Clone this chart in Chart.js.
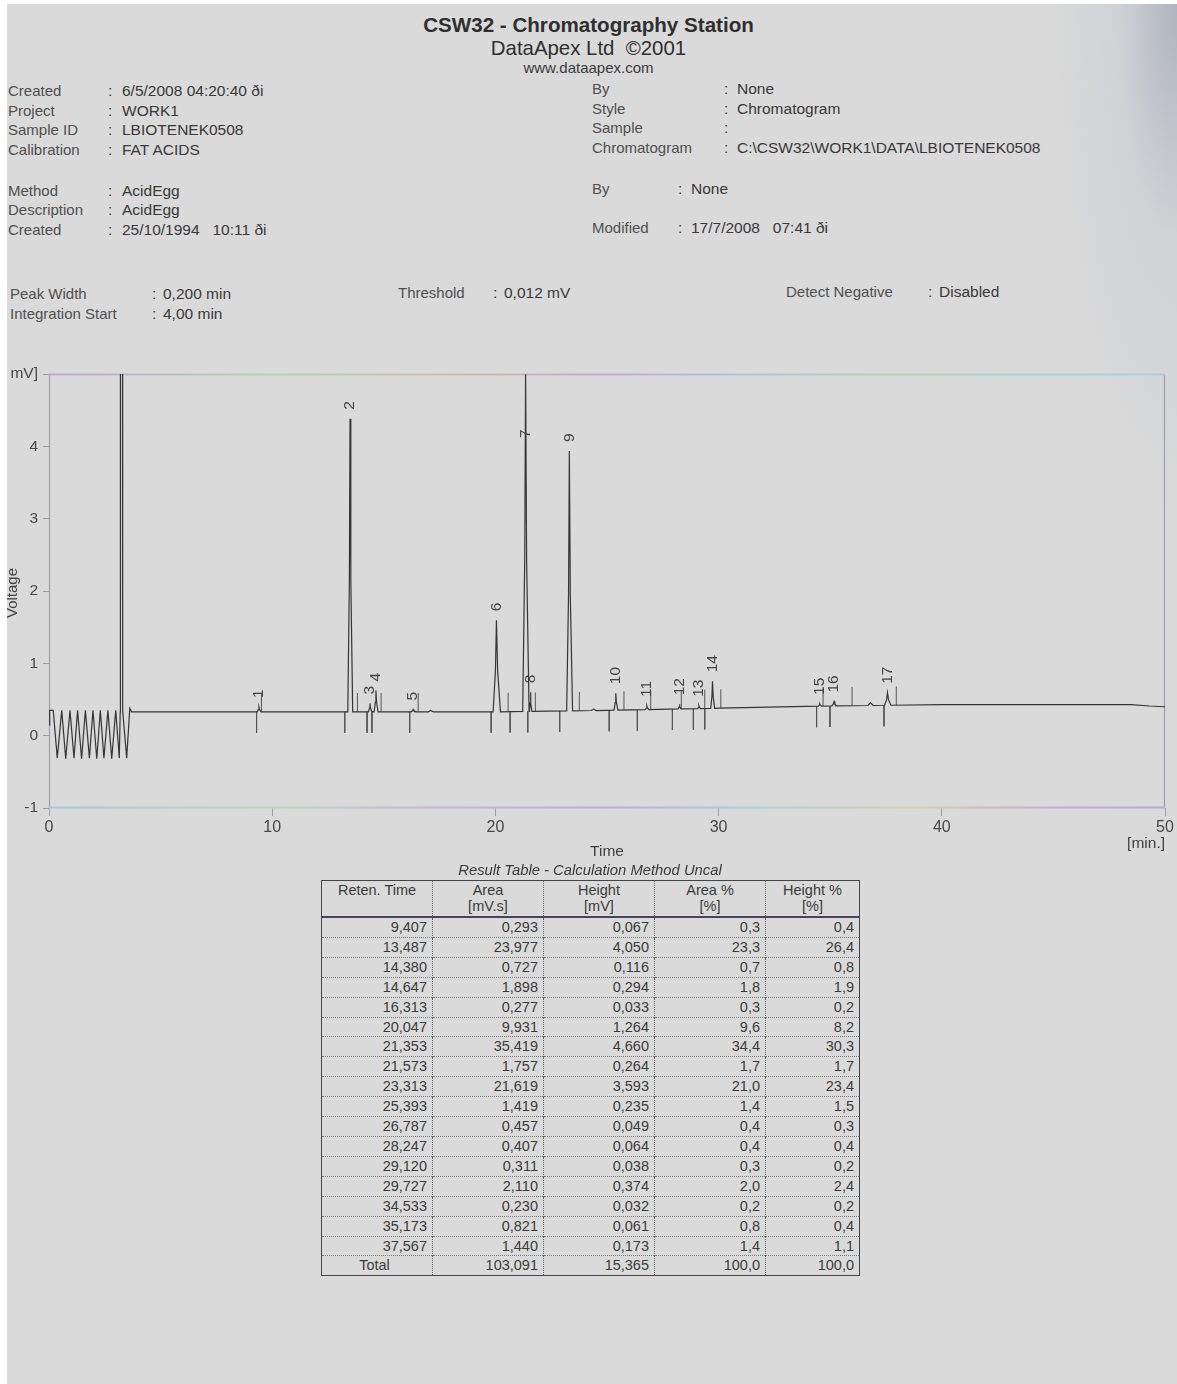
<!DOCTYPE html>
<html>
<head>
<meta charset="utf-8">
<title>CSW32 - Chromatography Station</title>
<script src="https://cdn.jsdelivr.net/npm/chart.js@4/dist/chart.umd.min.js"></script>
<style>
  html, body { margin: 0; padding: 0; background: #ffffff; }
  body { width: 1177px; height: 1384px; position: relative; overflow: hidden;
         font-family: "Liberation Sans", Arial, sans-serif; color: #3f3f3f; }
  #page { position: absolute; left: 7px; top: 4px; width: 1170px; height: 1380px; background: #dadada; }
  #curl { position: absolute; right: 0; top: 0; width: 220px; height: 560px;
          background: radial-gradient(ellipse 130px 520px at 100% 0%, rgba(164,170,184,0.8) 0%, rgba(200,203,210,0.55) 45%, rgba(218,218,218,0) 100%); }
  .t { position: absolute; white-space: nowrap; font-size: 15px; line-height: 16px; }
  .h1 { font-size: 20.6px; font-weight: bold; line-height: 22px; color: #2f2f2f; }
  .h2 { font-size: 20.4px; line-height: 22px; color: #2f2f2f; }
  .h3 { font-size: 15px; line-height: 16px; color: #3a3a3a; }
  .lab { color: #4f4f4f; }
  .val { color: #383838; font-size: 15.5px; }
  #chartBox { position: absolute; left: 0; top: 355px; width: 1177px; height: 515px; }
  #vclip { position: absolute; left: 7px; top: 540px; width: 24px; height: 110px; overflow: hidden; }
  #vtitle { position: absolute; left: -3px; top: 78px; transform-origin: 0 0; transform: rotate(-90deg);
            font-size: 15px; line-height: 15px; color: #3f3f3f; white-space: nowrap; }
  #results { position: absolute; left: 321px; top: 880px; width: 538px; border-collapse: collapse;
             table-layout: fixed; font-size: 14.5px; color: #3a3a3a; border: 1.5px solid #444; }
  #results th { font-weight: normal; vertical-align: top; text-align: center; height: 34px;
                line-height: 16px; padding: 1px 0 0 0; border-right: 1px dotted #666;
                border-bottom: 2.5px solid #4b4060; }
  #results td { text-align: right; padding: 0 5px 0 0; height: 18.9px; line-height: 18.9px;
                border-top: 1px dotted #777; border-right: 1px dotted #666; }
  #results tr.total td:first-child { text-align: center; }
</style>
</head>
<body>
<div id="page"><div id="curl"></div></div>

<!-- report heading -->
<div class="t h1" style="left:0;width:1177px;text-align:center;top:14px;">CSW32 - Chromatography Station</div>
<div class="t h2" style="left:0;width:1177px;text-align:center;top:37px;">DataApex Ltd &nbsp;©2001</div>
<div class="t h3" style="left:0;width:1177px;text-align:center;top:60px;">www.dataapex.com</div>

<div id="info"></div>

<div id="chartBox"><canvas id="chart" width="1177" height="515"></canvas></div>
<div id="vclip"><div id="vtitle">Voltage</div></div>
<div class="t" style="left:560px;width:94px;text-align:center;top:843px;color:#3f3f3f;font-size:15.5px;">Time</div>
<div class="t" style="left:1100px;width:65px;text-align:right;top:835px;color:#3f3f3f;font-size:15.5px;">[min.]</div>

<div class="t" style="left:0;width:1180px;text-align:center;top:862px;font-style:italic;font-size:14.8px;color:#3a3a3a;">Result Table - Calculation Method Uncal</div>
<table id="results"></table>

<script>
// ---- peak table (CSW32 result table) ----
const peakNumbers    = ['1','2','3','4','5','6','7','8','9','10','11','12','13','14','15','16','17'];
const retentionTimes = [9.407, 13.487, 14.380, 14.647, 16.313, 20.047, 21.353, 21.573, 23.313,
                        25.393, 26.787, 28.247, 29.120, 29.727, 34.533, 35.173, 37.567];
const peakAreas      = [0.293, 23.977, 0.727, 1.898, 0.277, 9.931, 35.419, 1.757, 21.619,
                        1.419, 0.457, 0.407, 0.311, 2.110, 0.230, 0.821, 1.440];
const peakHeights    = [0.067, 4.050, 0.116, 0.294, 0.033, 1.264, 4.660, 0.264, 3.593,
                        0.235, 0.049, 0.064, 0.038, 0.374, 0.032, 0.061, 0.173];
const areaPercent    = [0.3, 23.3, 0.7, 1.8, 0.3, 9.6, 34.4, 1.7, 21.0, 1.4, 0.4, 0.4, 0.3, 2.0, 0.2, 0.8, 1.4];
const heightPercent  = [0.4, 26.4, 0.8, 1.9, 0.2, 8.2, 30.3, 1.7, 23.4, 1.5, 0.3, 0.4, 0.2, 2.4, 0.2, 0.4, 1.1];
const totalRow       = ['Total', '103,091', '15,365', '100,0', '100,0'];
const tableHeaders   = [['Reten. Time',''], ['Area','[mV.s]'], ['Height','[mV]'], ['Area %','[%]'], ['Height %','[%]']];

// half base width of each peak, minutes
const peakHalfWidths = [0.08, 0.10, 0.07, 0.08, 0.10, 0.15, 0.13, 0.05, 0.12,
                        0.08, 0.07, 0.06, 0.06, 0.08, 0.07, 0.10, 0.13];

// small unnamed bumps on the baseline
const minorTimes   = [17.1, 24.4, 36.8];
const minorHeights = [0.02, 0.02, 0.04];

// detector baseline (mV) after the injection disturbance
const baselineTimes  = [3.7, 10, 16, 20, 25, 30, 35, 40, 45, 48.5, 49.3, 50];
const baselineLevels = [0.33, 0.33, 0.33, 0.33, 0.35, 0.38, 0.41, 0.43, 0.43, 0.43, 0.41, 0.40];

// injection disturbance and solvent front, 0 - 3.7 min
const injectionTimes  = [0, 0.03, 0.19, 0.37, 0.57, 0.75, 0.94, 1.12, 1.28, 1.46, 1.63, 1.81, 1.97,
                         2.14, 2.30, 2.46, 2.64, 2.81, 2.99, 3.15, 3.19, 3.20, 3.29, 3.30, 3.48, 3.62];
const injectionLevels = [0.15, 0.35, 0.35, -0.31, 0.35, -0.32, 0.35, -0.31, 0.35, -0.32, 0.35, -0.31, 0.35,
                         -0.32, 0.35, -0.31, 0.35, -0.32, 0.35, -0.31, 0.33, 6.0, 6.0, 0.35, -0.31, 0.38];

// integration events: peak starts (drawn downward) and peak ends (drawn upward)
const peakStartTimes = [9.30, 13.25, 14.25, 14.47, 16.16, 19.81, 20.66, 21.45, 22.88, 25.10,
                        26.36, 27.93, 28.87, 29.38, 34.39, 34.99, 37.41];
const peakEndTimes   = [9.52, 13.82, 14.88, 16.54, 20.57, 21.79, 23.76, 25.76, 26.96, 28.33,
                        29.38, 30.10, 34.68, 35.98, 37.96];

const xTicks = [0, 10, 20, 30, 40, 50];
const yTicks = [-1, 0, 1, 2, 3, 4, 5];

// ---------- helpers ----------
function levelAt(t) {
  if (t <= baselineTimes[0]) return baselineLevels[0];
  for (let i = 1; i < baselineTimes.length; i++) {
    if (t <= baselineTimes[i]) {
      const f = (t - baselineTimes[i-1]) / (baselineTimes[i] - baselineTimes[i-1]);
      return baselineLevels[i-1] + f * (baselineLevels[i] - baselineLevels[i-1]);
    }
  }
  return baselineLevels[baselineLevels.length - 1];
}
const comma = (v, d) => v.toFixed(d).replace('.', ',');

// ---------- header fields ----------
const leftFields = [
  ['Created', '6/5/2008 04:20:40 ði', 91], ['Project', 'WORK1', 111], ['Sample ID', 'LBIOTENEK0508', 130],
  ['Calibration', 'FAT ACIDS', 150], ['Method', 'AcidEgg', 191], ['Description', 'AcidEgg', 210],
  ['Created', '25/10/1994\u00a0\u00a0 10:11 ði', 230]
];
const rightFields = [
  ['By', 'None', 89, 724], ['Style', 'Chromatogram', 109, 724], ['Sample', '', 128, 724],
  ['Chromatogram', 'C:\\CSW32\\WORK1\\DATA\\LBIOTENEK0508', 148, 724],
  ['By', 'None', 189, 678], ['Modified', '17/7/2008\u00a0\u00a0 07:41 ði', 228, 678]
];
const paramFields = [
  ['Peak Width', '0,200 min', 10, 152, 294], ['Integration Start', '4,00 min', 10, 152, 314],
  ['Threshold', '0,012 mV', 398, 493, 293], ['Detect Negative', 'Disabled', 786, 928, 292]
];
const info = document.getElementById('info');
function addText(cls, x, yc, txt) {
  const d = document.createElement('div');
  d.className = 't ' + cls;
  d.style.left = x + 'px';
  d.style.top = (yc - 8) + 'px';
  d.textContent = txt;
  info.appendChild(d);
}
leftFields.forEach(([l, v, y]) => { addText('lab', 8, y, l); addText('val', 108, y, ':'); addText('val', 122, y, v); });
rightFields.forEach(([l, v, y, cx]) => { addText('lab', 592, y, l); addText('val', cx, y, ':'); addText('val', cx + 13, y, v); });
paramFields.forEach(([l, v, lx, cx, y]) => { addText('lab', lx, y, l); addText('val', cx, y, ':'); addText('val', cx + 11, y, v); });

// ---------- result table ----------
const tbl = document.getElementById('results');
const colW = [111, 111, 111, 111, 94];
let html = '<colgroup>' + colW.map(w => `<col style="width:${w}px">`).join('') + '</colgroup>';
html += '<tr>' + tableHeaders.map(h => `<th>${h[0]}<br>${h[1]}</th>`).join('') + '</tr>';
retentionTimes.forEach((rt, i) => {
  html += '<tr>' + [comma(rt, 3), comma(peakAreas[i], 3), comma(peakHeights[i], 3),
                    comma(areaPercent[i], 1), comma(heightPercent[i], 1)].map(v => `<td>${v}</td>`).join('') + '</tr>';
});
html += '<tr class="total">' + totalRow.map(v => `<td>${v}</td>`).join('') + '</tr>';
tbl.innerHTML = html;

// ---------- chromatogram trace ----------
const peakSpans = retentionTimes.map((rt, i) => [rt - peakHalfWidths[i], rt + 1.2 * peakHalfWidths[i]]);
const trace = [];
injectionTimes.forEach((t, i) => trace.push({ x: t, y: injectionLevels[i] }));
baselineTimes.forEach((t, i) => {
  if (!peakSpans.some(([a, b]) => t >= a && t <= b)) trace.push({ x: t, y: baselineLevels[i] });
});
retentionTimes.forEach((rt, i) => {
  const w = peakHalfWidths[i], b = levelAt(rt), h = peakHeights[i];
  trace.push({ x: rt - w, y: b }, { x: rt - 0.3 * w, y: b + 0.45 * h }, { x: rt, y: b + h },
             { x: rt + 0.35 * w, y: b + 0.45 * h }, { x: rt + 1.2 * w, y: b });
});
minorTimes.forEach((t, i) => {
  const b = levelAt(t);
  trace.push({ x: t - 0.1, y: b }, { x: t, y: b + minorHeights[i] }, { x: t + 0.12, y: b });
});
trace.sort((a, b) => a.x - b.x);

// integration event ticks
const events = [];
peakStartTimes.forEach(t => { const b = levelAt(t); events.push({ x: t, y: b }, { x: t, y: b - 0.29 }, { x: t, y: null }); });
peakEndTimes.forEach(t => { const b = levelAt(t); events.push({ x: t, y: b }, { x: t, y: b + 0.26 }, { x: t, y: null }); });

// ---------- plugins ----------
const framePlugin = {
  id: 'frame',
  beforeDatasetsDraw(chart) {
    const { ctx, chartArea: a } = chart;
    ctx.save();
    ctx.lineWidth = 1.2;
    ctx.strokeStyle = '#9c9eaa';
    ctx.beginPath();
    ctx.moveTo(a.left + 0.5, a.top); ctx.lineTo(a.left + 0.5, a.bottom);
    ctx.moveTo(a.right - 0.5, a.top); ctx.lineTo(a.right - 0.5, a.bottom);
    ctx.stroke();
    const gTop = ctx.createLinearGradient(a.left, 0, a.right, 0);
    [['#c0a8d8', 0], ['#b6d4b0', 0.2], ['#cdbfa4', 0.35], ['#c8a8d6', 0.5], ['#a8c8dc', 0.62],
     ['#b0d8b4', 0.75], ['#a8d4e0', 0.9], ['#a8d0dc', 1]].forEach(([c, s]) => gTop.addColorStop(s, c));
    ctx.strokeStyle = gTop; ctx.lineWidth = 1.8;
    ctx.beginPath(); ctx.moveTo(a.left, a.top + 0.5); ctx.lineTo(a.right, a.top + 0.5); ctx.stroke();
    const gBot = ctx.createLinearGradient(a.left, 0, a.right, 0);
    [['#a8c8dc', 0], ['#b8d8c0', 0.2], ['#c8b4dc', 0.35], ['#c0a8d8', 0.5], ['#a8d0e0', 0.62],
     ['#d8cfa8', 0.78], ['#c8a8d8', 0.9], ['#b8a8d8', 1]].forEach(([c, s]) => gBot.addColorStop(s, c));
    ctx.strokeStyle = gBot;
    ctx.beginPath(); ctx.moveTo(a.left, a.bottom - 0.5); ctx.lineTo(a.right, a.bottom - 0.5); ctx.stroke();
    ctx.restore();
  }
};

const peakLabelPlugin = {
  id: 'peakLabels',
  afterDatasetsDraw(chart) {
    const { ctx, chartArea: a, scales: { x, y } } = chart;
    ctx.save();
    ctx.font = '15.5px "Liberation Sans", Arial, sans-serif';
    ctx.fillStyle = '#444444';
    ctx.textAlign = 'left';
    ctx.textBaseline = 'middle';
    retentionTimes.forEach((rt, i) => {
      const apex = levelAt(rt) + peakHeights[i];
      const px = x.getPixelForValue(rt);
      const len = ctx.measureText(peakNumbers[i]).width;
      let bottom = y.getPixelForValue(apex) - 9;
      if (bottom - len < a.top + 20) bottom = y.getPixelForValue(apex - 0.88);
      ctx.save();
      ctx.translate(px, bottom);
      ctx.rotate(-Math.PI / 2);
      ctx.fillText(peakNumbers[i], 0, 0);
      ctx.restore();
    });
    ctx.restore();
  }
};

Chart.defaults.font.family = '"Liberation Sans", Arial, sans-serif';
new Chart(document.getElementById('chart'), {
  type: 'scatter',
  data: {
    datasets: [
      { data: trace, showLine: true, borderColor: '#353535', borderWidth: 1.2, pointRadius: 0, tension: 0 },
      { data: events, showLine: true, spanGaps: false, borderColor: '#555555', borderWidth: 1, pointRadius: 0 }
    ]
  },
  options: {
    responsive: false, animation: false, devicePixelRatio: 1,
    layout: { padding: { top: 19, right: 12, left: 0, bottom: 0 } },
    plugins: { legend: { display: false }, tooltip: { enabled: false } },
    scales: {
      x: {
        type: 'linear', min: 0, max: 50,
        afterBuildTicks: s => { s.ticks = xTicks.map(v => ({ value: v })); },
        afterFit: s => { s.height = 62; },
        border: { display: false },
        grid: { drawOnChartArea: false, drawTicks: true, tickLength: 8, color: '#9c9eaa' },
        ticks: { color: '#474747', font: { size: 16 }, padding: 2, maxRotation: 0 }
      },
      y: {
        type: 'linear', min: -1, max: 5,
        afterBuildTicks: s => { s.ticks = yTicks.map(v => ({ value: v })); },
        afterFit: s => { s.width = 49; },
        border: { display: false },
        grid: { drawOnChartArea: false, drawTicks: true, tickLength: 6, color: '#9c9eaa' },
        ticks: { color: '#474747', font: { size: 15.5 }, padding: 5,
                 callback: v => (v === 5 ? 'mV]' : String(v)) }
      }
    }
  },
  plugins: [framePlugin, peakLabelPlugin]
});
</script>
</body>
</html>
